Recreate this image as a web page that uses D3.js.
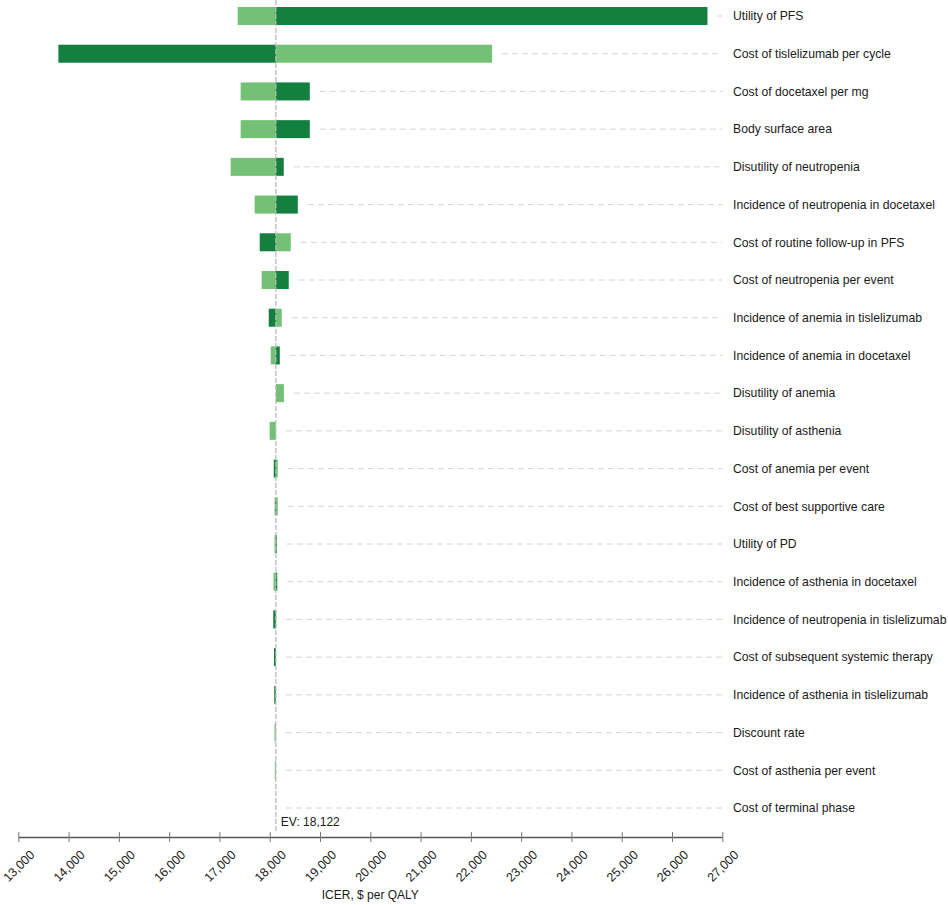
<!DOCTYPE html>
<html>
<head>
<meta charset="utf-8">
<script src="https://cdn.jsdelivr.net/npm/d3@7"></script>
<style>
  body { margin: 0; background: #fff; }
  svg { font-family: "Liberation Sans", Arial, Helvetica, sans-serif; }
  .row-label { font-size: 12.2px; fill: #1a1a1a; }
  .tick text { font-size: 12.5px; fill: #222; }
  .axis-title { font-size: 12px; fill: #1a1a1a; }
</style>
</head>
<body>
<div id="chart"></div>
<script>
// parameters, top to bottom
var params = [
  'Utility of PFS',
  'Cost of tislelizumab per cycle',
  'Cost of docetaxel per mg',
  'Body surface area',
  'Disutility of neutropenia',
  'Incidence of neutropenia in docetaxel',
  'Cost of routine follow-up in PFS',
  'Cost of neutropenia per event',
  'Incidence of anemia in tislelizumab',
  'Incidence of anemia in docetaxel',
  'Disutility of anemia',
  'Disutility of asthenia',
  'Cost of anemia per event',
  'Cost of best supportive care',
  'Utility of PD',
  'Incidence of asthenia in docetaxel',
  'Incidence of neutropenia in tislelizumab',
  'Cost of subsequent systemic therapy',
  'Incidence of asthenia in tislelizumab',
  'Discount rate',
  'Cost of asthenia per event',
  'Cost of terminal phase'
];

// ICER at each end of the range (light bars / dark bars)
var lightIcer = [17363, 22422, 17422, 17422, 17223, 17701, 18418, 17840, 18239, 18020,
  18282, 17998, 18160, 18160, 18095, 18075, 18130, 18122, 18122, 18095, 18100, 18122];
var darkIcer = [26705, 13797, 18797, 18797, 18279, 18558, 17801, 18378, 17980, 18200,
  18122, 18122, 18080, 18100, 18140, 18150, 18070, 18085, 18090, 18122, 18122, 18122];

var ev = 18122;
var xTicks = [13000, 14000, 15000, 16000, 17000, 18000, 19000, 20000,
  21000, 22000, 23000, 24000, 25000, 26000, 27000];

var width = 948, height = 905;
var lightColor = '#72c174';
var darkColor = '#13803f';

var svg = d3.select('#chart').append('svg')
  .attr('width', width)
  .attr('height', height);

var x = d3.scaleLinear().domain([13000, 27000]).range([18.3, 722.3]);
var y = d3.scalePoint().domain(params).range([16, 808]);
var barH = 18;
var axisY = 837;

var rows = params.map(function (p, i) {
  return { name: p, light: lightIcer[i], dark: darkIcer[i] };
});

// dashed guide lines from bar end to labels
svg.append('g').selectAll('line')
  .data(rows)
  .enter().append('line')
  .attr('x1', function (d) { return Math.max(x(d.light), x(d.dark), x(ev)) + 10; })
  .attr('x2', 722)
  .attr('y1', function (d) { return y(d.name); })
  .attr('y2', function (d) { return y(d.name); })
  .attr('stroke', '#d4d4d4')
  .attr('stroke-width', 1)
  .attr('stroke-dasharray', '6,4');

function drawBars(key, color) {
  svg.append('g').selectAll('rect')
    .data(rows)
    .enter().append('rect')
    .attr('x', function (d) { return Math.min(x(d[key]), x(ev)); })
    .attr('width', function (d) { return Math.abs(x(d[key]) - x(ev)); })
    .attr('y', function (d) { return y(d.name) - barH / 2; })
    .attr('height', barH)
    .attr('fill', color);
}
drawBars('light', lightColor);
drawBars('dark', darkColor);

// expected value line
svg.append('line')
  .attr('x1', x(ev)).attr('x2', x(ev))
  .attr('y1', 0).attr('y2', 832)
  .attr('stroke', '#b8b8b8')
  .attr('stroke-width', 1.2)
  .attr('stroke-dasharray', '5,2');

svg.append('text')
  .attr('x', x(ev) + 5)
  .attr('y', 826)
  .attr('class', 'axis-title')
  .text('EV: ' + d3.format(',')(ev));

// parameter labels
svg.append('g').selectAll('text')
  .data(rows)
  .enter().append('text')
  .attr('class', 'row-label')
  .attr('x', 733)
  .attr('y', function (d) { return y(d.name); })
  .attr('dy', '0.35em')
  .text(function (d) { return d.name; });

// x axis
var axis = svg.append('g')
  .attr('transform', 'translate(0,' + axisY + ')')
  .call(d3.axisBottom(x).tickValues(xTicks).tickSize(5).tickSizeOuter(0).tickFormat(d3.format(',')));
axis.select('.domain').attr('stroke', '#555').attr('stroke-width', 1.6);
axis.selectAll('.tick line').attr('y1', -5).attr('stroke', '#777');
axis.selectAll('.tick text')
  .attr('text-anchor', 'middle')
  .attr('transform', 'translate(0,29) rotate(-45)')
  .attr('dy', '0.35em')
  .attr('y', 0)
  .attr('x', 0);

svg.append('text')
  .attr('class', 'axis-title')
  .attr('x', (x.range()[0] + x.range()[1]) / 2)
  .attr('y', 899)
  .attr('text-anchor', 'middle')
  .text('ICER, $ per QALY');
</script>
</body>
</html>
